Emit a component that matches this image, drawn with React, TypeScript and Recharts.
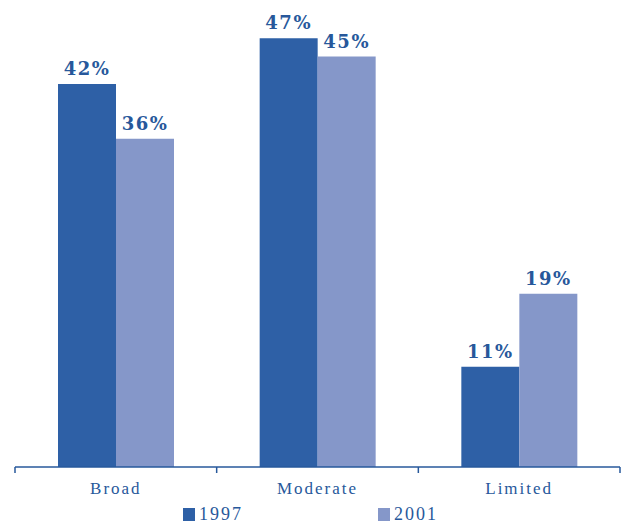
import { BarChart, Bar, XAxis, YAxis, LabelList, Legend } from "recharts";

const categories = ["Broad", "Moderate", "Limited"];
const values1997 = [42, 47, 11];
const values2001 = [36, 45, 19];
const seriesNames = ["1997", "2001"];

const DARK = "#2e60a6";
const LIGHT = "#8597c9";
const TEXT = "#27589b";

const W = 626;
const H = 523;
const MARGIN = { top: 11, right: 6, left: 15, bottom: 0 };
const HALF_BAND = (W - MARGIN.left - MARGIN.right) / categories.length / 2;

const data = categories.map((name, i) => ({
  name,
  y1997: values1997[i],
  y2001: values2001[i],
}));

const labelStyle = {
  fontFamily: "'DejaVu Serif', serif",
  fontWeight: 700,
  fontSize: 18,
  letterSpacing: 1.5,
  fill: TEXT,
};

// category label plus tick marks at the band edges
function CategoryTick(props: any) {
  const { x, y, payload, index } = props;
  const last = index === categories.length - 1;
  return (
    <g>
      <line x1={x - HALF_BAND} x2={x - HALF_BAND} y1={y} y2={y + 6} stroke={TEXT} strokeWidth={1.5} />
      {last && (
        <line x1={x + HALF_BAND} x2={x + HALF_BAND} y1={y} y2={y + 6} stroke={TEXT} strokeWidth={1.5} />
      )}
      <text
        x={x}
        y={y + 27}
        textAnchor="middle"
        fontFamily="'Liberation Serif', serif"
        fontSize={17}
        letterSpacing={2}
        fill={TEXT}
      >
        {payload.value}
      </text>
    </g>
  );
}

function LegendBox() {
  const items = [
    { name: seriesNames[0], color: DARK, left: 183 },
    { name: seriesNames[1], color: LIGHT, left: 378 },
  ];
  return (
    <div style={{ position: "relative", height: 24 }}>
      {items.map((it) => (
        <div
          key={it.name}
          style={{
            position: "absolute",
            left: it.left,
            top: 0,
            display: "flex",
            alignItems: "center",
            fontFamily: "'Liberation Serif', serif",
            fontSize: 18,
            letterSpacing: 2,
            color: TEXT,
          }}
        >
          <span
            style={{
              display: "inline-block",
              width: 12,
              height: 13,
              background: it.color,
              marginRight: 4,
            }}
          />
          {it.name}
        </div>
      ))}
    </div>
  );
}

export default function App() {
  return (
    <div style={{ position: "absolute", left: 0, top: 0, background: "#fff" }}>
      <BarChart
        width={W}
        height={H}
        data={data}
        margin={MARGIN}
        barGap={0}
        barCategoryGap={43}
      >
        <YAxis hide domain={[0, 50]} />
        <XAxis
          dataKey="name"
          axisLine={{ stroke: TEXT, strokeWidth: 1.5 }}
          tickLine={false}
          tickSize={0}
          tickMargin={0}
          height={56}
          interval={0}
          tick={<CategoryTick />}
        />
        <Legend
          layout="horizontal"
          verticalAlign="middle"
          align="center"
          wrapperStyle={{ top: 504, left: 0, width: W }}
          content={() => <LegendBox />}
        />
        <Bar dataKey="y1997" name={seriesNames[0]} fill={DARK} isAnimationActive={false}>
          <LabelList
            dataKey="y1997"
            position="top"
            offset={9}
            formatter={(v: number) => `${v}%`}
            style={labelStyle}
          />
        </Bar>
        <Bar dataKey="y2001" name={seriesNames[1]} fill={LIGHT} isAnimationActive={false}>
          <LabelList
            dataKey="y2001"
            position="top"
            offset={9}
            formatter={(v: number) => `${v}%`}
            style={labelStyle}
          />
        </Bar>
      </BarChart>
    </div>
  );
}
